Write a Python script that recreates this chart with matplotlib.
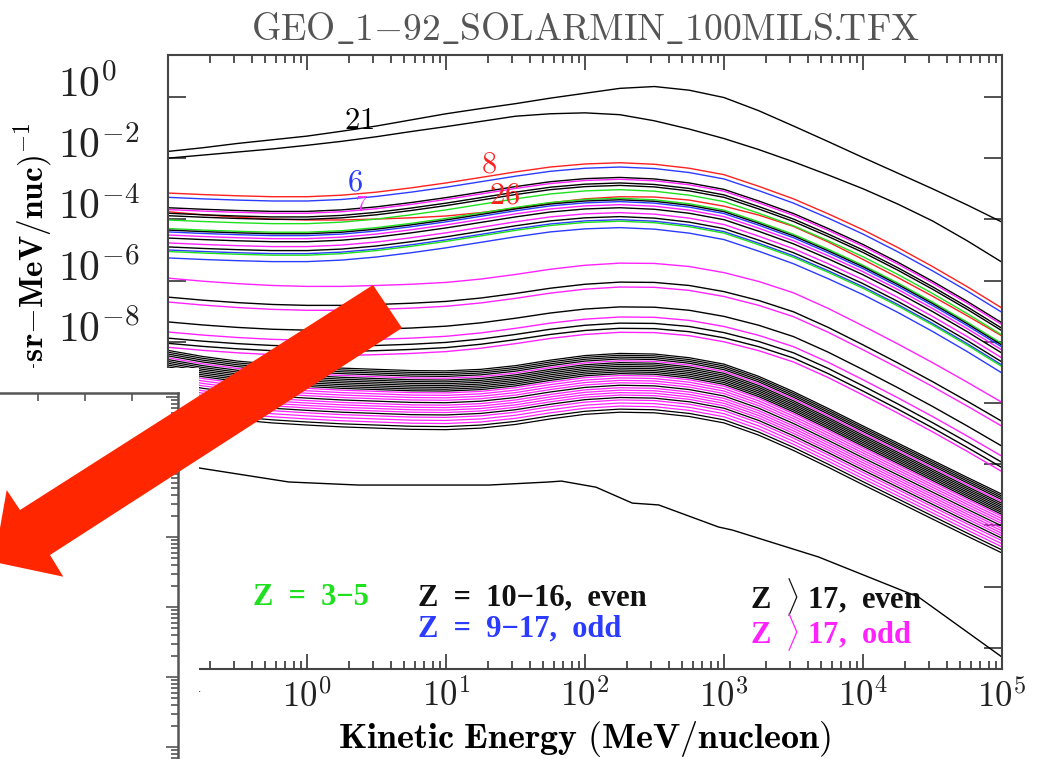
import numpy as np
import matplotlib
matplotlib.use("Agg")
import matplotlib.pyplot as plt
from matplotlib.ticker import FixedLocator, LogLocator, FuncFormatter, NullLocator, NullFormatter
from matplotlib.patches import Polygon

plt.rcParams['mathtext.fontset'] = 'cm'

# ---- data (log10 of flux) ----
energy = [0.1, 0.178, 0.316, 0.562, 1.0, 1.78, 3.16, 5.62, 10.0, 17.8, 31.6, 56.2, 100.0,
          178.0, 316.0, 562.0, 1000.0, 1778.0, 3162.0, 5623.0, 1.0e4, 1.78e4, 3.16e4, 5.62e4, 1.0e5]

h_flux = [-1.78, -1.66, -1.52, -1.40, -1.28, -1.12, -0.95, -0.75, -0.55, -0.38, -0.22, -0.04, 0.12,
          0.28, 0.34, 0.22, -0.02, -0.45, -0.95, -1.46, -1.98, -2.49, -3.00, -3.53, -4.09]
he_flux = [-2.00, -1.90, -1.80, -1.70, -1.58, -1.45, -1.30, -1.13, -0.97, -0.80, -0.63, -0.55, -0.52,
           -0.58, -0.78, -1.05, -1.36, -1.72, -2.12, -2.55, -3.00, -3.50, -4.05, -4.70, -5.40]

# spectral shapes, relative to the 0.1 MeV/nuc value
shape_light = [0, -0.05, -0.09, -0.12, -0.12, -0.07, 0.03, 0.17, 0.33, 0.51, 0.69, 0.85, 0.95,
               0.99, 0.94, 0.81, 0.60, 0.22, -0.19, -0.68, -1.20, -1.78, -2.40, -3.06, -3.76]
shape_mid = [0, -0.10, -0.18, -0.24, -0.27, -0.27, -0.24, -0.20, -0.14, -0.03, 0.12, 0.29, 0.42,
             0.49, 0.48, 0.38, 0.18, -0.11, -0.48, -0.99, -1.56, -2.15, -2.76, -3.40, -4.06]
shape_heavy = [0, -0.20, -0.35, -0.45, -0.52, -0.58, -0.62, -0.66, -0.67, -0.62, -0.50, -0.32, -0.17,
               -0.10, -0.12, -0.24, -0.45, -0.85, -1.35, -1.90, -2.47, -3.03, -3.59, -4.15, -4.70]

light_levels = [-3.14, -3.28, -3.62, -3.68, -3.80, -3.88, -4.02, -4.30, -4.35, -4.41,
                -4.51, -4.61, -4.77, -4.90, -5.00, -5.05, -5.26]
light_colors = ['red', 'blue', 'black', 'magenta', 'black', 'black', 'green', 'green', 'black', 'blue',
                'magenta', 'black', 'magenta', 'black', 'blue', 'green', 'blue']

mid_levels = [-3.75, -5.92, -6.54, -6.70, -7.35, -7.68, -7.88, -8.05, -8.18]
mid_colors = ['red', 'magenta', 'black', 'magenta', 'black', 'magenta', 'black', 'black', 'magenta']

heavy_levels = [-8.28, -8.34, -8.40, -8.46, -8.52, -8.58, -8.64, -8.70, -8.76, -8.82,
                -8.88, -8.94, -9.00, -9.08, -9.16, -9.24, -9.32, -9.40, -9.48, -9.56,
                -9.64, -9.72, -9.80, -9.90, -10.00, -10.10, -10.20]
heavy_colors = ['black', 'black', 'black', 'black', 'magenta', 'black', 'black', 'black', 'black', 'black',
                'black', 'black', 'magenta', 'magenta', 'magenta', 'magenta', 'black', 'magenta', 'magenta',
                'magenta', 'magenta', 'black', 'magenta', 'magenta', 'magenta', 'black', 'black']

# lowest (isolated) curve
u_energy = [0.1, 0.166, 0.74, 2.35, 20.4, 55.0, 67.6, 120.0, 219.0, 339.0, 912.0, 1148.0, 4786.0, 25119.0, 1.0e5]
u_flux = [-12.0, -12.12, -12.58, -12.68, -12.68, -12.58, -12.55, -12.75, -13.27, -13.33, -14.05, -14.15,
          -15.03, -16.34, -18.3]

curve_labels = ['21', '8', '6', '7', '26']
label_x = [2.37, 20.4, 2.2, 2.45, 26.6]
label_y = [0.164, 6.5e-3, 1.66e-3, 3.0e-4, 6.3e-4]
label_sizes = [22, 22, 22, 16, 22]
label_colors = ['black', 'red', 'blue', 'magenta', 'red']

colors = {'black': '#000000', 'red': '#ff2020', 'blue': '#2b3bff',
          'magenta': '#ff22ff', 'green': '#1fe01f'}

# ---- figure ----
fig = plt.figure(figsize=(10.42, 7.59), dpi=100)
ax = fig.add_axes([168 / 1042, 90 / 759, 834 / 1042, 614 / 759])

for level, c in zip(heavy_levels, heavy_colors):
    ax.plot(energy, 10 ** (np.array(shape_heavy) + level), color=colors[c], lw=0.9)
for level, c in zip(mid_levels, mid_colors):
    ax.plot(energy, 10 ** (np.array(shape_mid) + level), color=colors[c], lw=1.0)
for level, c in zip(light_levels, light_colors):
    ax.plot(energy, 10 ** (np.array(shape_light) + level), color=colors[c], lw=1.0)
ax.plot(energy, 10 ** np.array(he_flux), color='black', lw=1.0)
ax.plot(energy, 10 ** np.array(h_flux), color='black', lw=1.0)
ax.plot(u_energy, 10 ** np.array(u_flux), color='black', lw=1.0)

for t, x, y, s, c in zip(curve_labels, label_x, label_y, label_sizes, label_colors):
    ax.text(x, y, "$%s$" % t, color=colors[c], fontsize=s, ha='center', va='center')

ax.set_xscale('log')
ax.set_yscale('log')
ax.set_xlim(0.1, 1e5)
ax.set_ylim(10 ** -18.69, 10 ** 1.37)

ax.xaxis.set_major_locator(LogLocator(base=10, numticks=20))
ax.xaxis.set_minor_locator(LogLocator(base=10, subs=range(2, 10), numticks=20))
ax.xaxis.set_minor_formatter(NullFormatter())
ax.yaxis.set_major_locator(FixedLocator([10.0 ** k for k in range(0, -19, -2)]))
ax.yaxis.set_minor_locator(NullLocator())
ax.xaxis.set_major_formatter(FuncFormatter(lambda v, p: r"$10^{%d}$" % round(np.log10(v))))
ax.yaxis.set_major_formatter(FuncFormatter(
    lambda v, p: r"$10^{%d}$" % round(np.log10(v)) if round(np.log10(v)) >= -8 else ""))

ax.tick_params(which='both', direction='in', top=True, right=True, color='#333333', width=1.2,
               labelcolor='#222222')
ax.tick_params(axis='x', which='major', length=11, labelsize=25, pad=7)
ax.tick_params(axis='x', which='minor', length=6)
ax.tick_params(axis='y', which='major', length=13, labelsize=30, pad=79)
plt.setp(ax.get_yticklabels(), ha='left', va='baseline')
for s in ax.spines.values():
    s.set_color('#444444')
    s.set_linewidth(1.5)

ax.set_title(r"$\mathrm{GEO\_1{-}92\_SOLARMIN\_100MILS{.}\!\!TFX}$", fontsize=27, color='#555555', pad=11)
ax.set_xlabel(r"$\mathbf{Kinetic\ Energy\ (MeV/nucleon)}$", fontsize=26, labelpad=4)
ax.text(33 / 1042, 1 - 122 / 759, r"$\mathbf{Flux\ (m^2{-}s{-}sr{-}MeV/nuc)^{-1}}$", rotation=90,
        ha='center', va='top', fontsize=24, transform=fig.transFigure, clip_on=False)

# legend text
lg = dict(family=['Liberation Serif', 'DejaVu Serif'], weight='bold', fontsize=22,
          transform=ax.transAxes, ha='left', va='center')
ax.text(0.102, 0.116, "Z  =  3\u22125", color=colors['green'], **lg)
ax.text(0.300, 0.116, "Z  =  10\u221216,  even", color='#111111', **lg)
ax.text(0.300, 0.066, "Z  =  9\u221217,  odd", color=colors['blue'], **lg)
ax.text(0.698, 0.118, r"Z  $\rangle$ 17,  even", color='#111111', **lg)
ax.text(0.698, 0.061, r"Z  $\rangle$ 17,  odd", color=colors['magenta'], **lg)

# white panel covering the lower left, with a second plot's frame
box = fig.add_axes([0, 0, 199 / 1042, 391 / 759])
box.set_facecolor('white')
box.set_xticks([])
box.set_yticks([])
for s in box.spines.values():
    s.set_visible(False)

ax2 = fig.add_axes([0, -38 / 759, 178 / 1042, 404 / 759])
ax2.patch.set_alpha(0)
ax2.set_yscale('log')
ax2.set_xlim(0.19, 3.98)
ax2.set_ylim(10 ** -4.714, 10 ** 1.057)
ax2.set_xticks([1, 2, 3])
ax2.xaxis.tick_top()
ax2.yaxis.tick_right()
ax2.yaxis.set_major_locator(LogLocator(base=10, numticks=20))
ax2.yaxis.set_minor_locator(LogLocator(base=10, subs=range(2, 10), numticks=20))
ax2.tick_params(which='both', direction='in', labeltop=False, labelright=False,
                color='#555555', width=1.2)
ax2.tick_params(axis='y', which='major', length=9)
ax2.tick_params(axis='y', which='minor', length=5)
ax2.tick_params(axis='x', length=6)
ax2.spines['left'].set_visible(False)
ax2.spines['bottom'].set_visible(False)
for side in ['top', 'right']:
    ax2.spines[side].set_color('#555555')
    ax2.spines[side].set_linewidth(1.8)

# red arrow overlay
ov = fig.add_axes([0, 0, 1, 1])
ov.set_xlim(0, 1042)
ov.set_ylim(759, 0)
ov.axis('off')
arrow = Polygon([(373, 285), (20, 510), (6.7, 490), (-6, 562), (63.3, 576.7), (50, 555), (402, 328)],
                closed=True, facecolor='#ff2600', edgecolor='none')
ov.add_patch(arrow)

fig.savefig('out.png', dpi=100)
